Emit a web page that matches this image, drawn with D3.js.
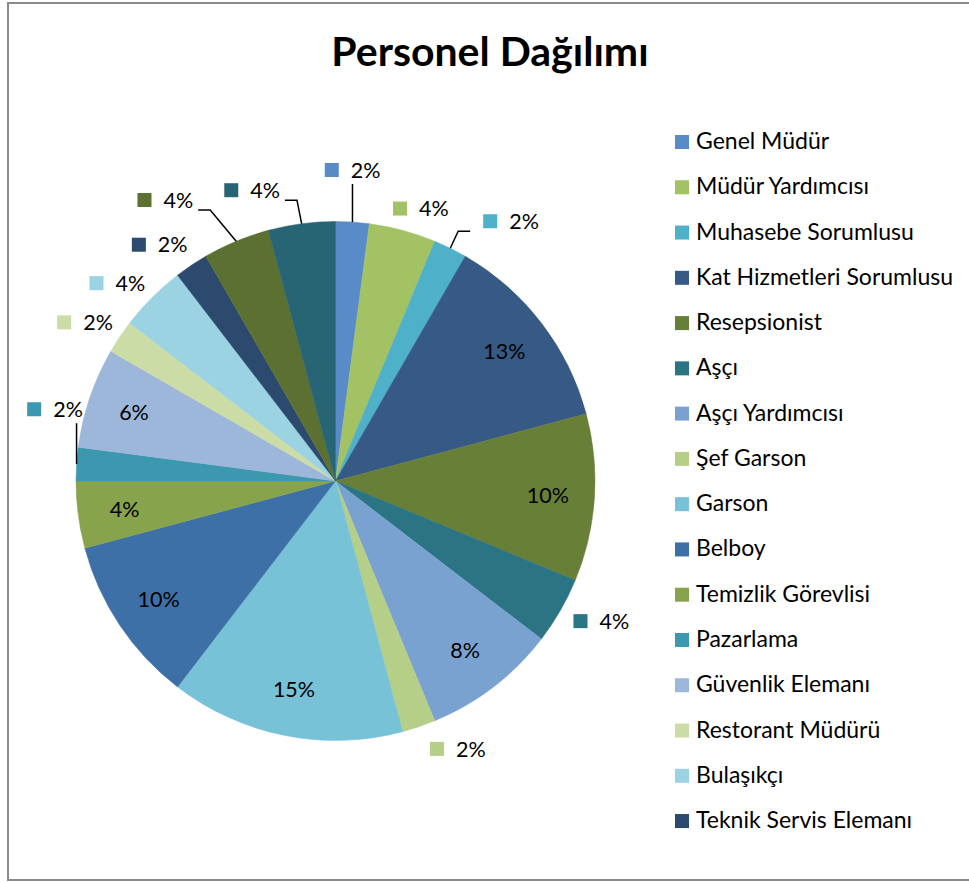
<!DOCTYPE html>
<html>
<head>
<meta charset="utf-8">
<title>Personel Dağılımı</title>
<script src="https://cdn.jsdelivr.net/npm/d3@7"></script>
<style>
  html, body { margin: 0; padding: 0; background: #fff; }
  svg { display: block; font-family: Lato, "Open Sans", sans-serif; }
</style>
</head>
<body>
<div class="chart"></div>
<script>
'use strict';

// Data
var TITLE = 'Personel Dağılımı';
var CATEGORIES = ['Genel Müdür', 'Müdür Yardımcısı', 'Muhasebe Sorumlusu', 'Kat Hizmetleri Sorumlusu',
  'Resepsionist', 'Aşçı', 'Aşçı Yardımcısı', 'Şef Garson', 'Garson', 'Belboy', 'Temizlik Görevlisi',
  'Pazarlama', 'Güvenlik Elemanı', 'Restorant Müdürü', 'Bulaşıkçı', 'Teknik Servis Elemanı',
  'Kategori 17', 'Kategori 18'];
var COUNTS = [1, 2, 1, 6, 5, 2, 4, 1, 7, 5, 2, 1, 3, 1, 2, 1, 2, 2];

// Colors
var COLORS = ['#588bc8', '#a3c264', '#4fb1c9', '#365a85', '#687f38', '#2a7484', '#7aa2d0', '#b5cf89',
  '#77c2d6', '#3e70a8', '#87a44c', '#3c98ae', '#9db7da', '#cbdca7', '#9bd3e2', '#2c4a6e', '#5c7131', '#286574'];

// Outside label nudges: [degrees, px] (label placement only)
var LABEL_NUDGE = [[-0.6, 16], [2.4, -10], [7.8, 18], null, null, [-2.2, 5], null, [-5.8, -1], null, null, null,
  [10.6, -6], null, [-1.4, 1], [-2.8, -1], [-2.9, -1], [-8.7, 33], [-8.5, 7]];

(function() {
  var w = 969;
  var h = 882;
  var cx = 335.5;
  var cy = 481;
  var radius = 259.5;
  var fs = 21.5;

  var data = CATEGORIES.map(function(c, i) {
    return {name: c, count: COUNTS[i], color: COLORS[i], nudge: LABEL_NUDGE[i]};
  });
  var total = d3.sum(COUNTS);
  var fmt = d3.format('.0%');

  var svg = d3.select('.chart')
    .append('svg')
    .attr('width', w)
    .attr('height', h);

  // Chart border
  svg.append('rect')
    .attr('x', 8)
    .attr('y', 3)
    .attr('width', w + 20)
    .attr('height', 877)
    .attr('fill', '#fff')
    .attr('stroke', '#8a8a8a')
    .attr('stroke-width', 2);

  // Title
  svg.append('text')
    .attr('x', 490)
    .attr('y', 66)
    .attr('text-anchor', 'middle')
    .attr('font-size', 41)
    .attr('font-weight', 'bold')
    .attr('fill', '#000')
    .text(TITLE);

  var pie = d3.pie().sort(null).value(function(d) { return d.count; });
  var arcs = pie(data);
  var arc = d3.arc().innerRadius(0).outerRadius(radius);

  var polar = function(a, rr) {
    return {x: cx + rr * Math.sin(a), y: cy - rr * Math.cos(a)};
  };

  // Slices
  svg.append('g')
    .attr('transform', 'translate(' + cx + ',' + cy + ')')
    .selectAll('path')
    .data(arcs)
    .enter()
    .append('path')
    .attr('d', arc)
    .attr('fill', function(d) { return d.data.color; })
    .attr('stroke', function(d) { return d.data.color; })
    .attr('stroke-width', 0.5);

  // Labels
  var labels = svg.append('g').attr('class', 'labels');
  var leaders = svg.append('g').attr('class', 'leaders');

  arcs.forEach(function(d) {
    var mid = (d.startAngle + d.endAngle) / 2;
    var g = labels.append('g');
    var t = g.append('text')
      .attr('font-size', fs)
      .attr('fill', '#000')
      .text(fmt(d.value / total));
    var tw = t.node().getComputedTextLength();
    var th = fs * 0.75;

    // Does the label fit inside the slice?
    var extent = tw * Math.abs(Math.cos(mid)) + th * Math.abs(Math.sin(mid));
    if (extent < 0.36 * radius * (d.endAngle - d.startAngle)) {
      var p = polar(mid, radius * 0.82);
      t.attr('x', p.x).attr('y', p.y + fs * 0.36).attr('text-anchor', 'middle');
      return;
    }

    // Outside label with legend key
    var nudge = d.data.nudge || [0, 0];
    var q = polar(mid + nudge[0] * Math.PI / 180, radius + 36 + nudge[1]);
    var gw = 26 + tw;
    var x0 = q.x - gw / 2;
    g.append('rect')
      .attr('x', x0)
      .attr('y', q.y - 7)
      .attr('width', 14)
      .attr('height', 14)
      .attr('fill', d.data.color);
    t.attr('x', x0 + 26).attr('y', q.y + fs * 0.36);

    var box = {x0: x0, x1: x0 + gw, y0: q.y - 8, y1: q.y + 8};

    // Distance from label box to the slice arc
    var gap = d3.min(d3.range(21), function(k) {
      var a = d.startAngle + (d.endAngle - d.startAngle) * k / 20;
      var s = polar(a, radius);
      var dx = Math.max(box.x0 - s.x, 0, s.x - box.x1);
      var dy = Math.max(box.y0 - s.y, 0, s.y - box.y1);
      return Math.sqrt(dx * dx + dy * dy);
    });
    if (gap < 28) return;

    var A = polar(mid, radius);
    var pts;
    if (A.x >= box.x0 && A.x <= box.x1) {
      pts = [[A.x, A.y], [A.x, A.y > box.y1 ? box.y1 + 6 : box.y0 - 6]];
    } else {
      var ey = A.y > box.y1 ? box.y1 + 2 : box.y0 - 2;
      var ex = box.x1 < A.x ? box.x1 + 5 : box.x0 - 13;
      var kx = box.x1 < A.x ? ex + 12 : ex - 12;
      pts = [[A.x, A.y], [kx, ey], [ex, ey]];
    }
    leaders.append('path')
      .attr('d', d3.line()(pts))
      .attr('fill', 'none')
      .attr('stroke', '#000')
      .attr('stroke-width', 1.5);
  });

  // Legend (only the rows that fit)
  var legendTop = 149;
  var pitch = 45.27;
  var maxRows = Math.floor((h - 40 - legendTop) / pitch) + 1;
  var shown = data.slice(0, maxRows);
  var yScale = d3.scalePoint()
    .domain(shown.map(function(d) { return d.name; }))
    .range([legendTop, legendTop + (shown.length - 1) * pitch]);

  var legend = svg.append('g')
    .attr('class', 'legend')
    .selectAll('g')
    .data(shown)
    .enter()
    .append('g');

  legend.append('rect')
    .attr('x', 675)
    .attr('y', function(d) { return yScale(d.name) - 14; })
    .attr('width', 14)
    .attr('height', 14)
    .attr('fill', function(d) { return d.color; });

  legend.append('text')
    .attr('x', 696)
    .attr('y', function(d) { return yScale(d.name); })
    .attr('font-size', 23)
    .attr('fill', '#000')
    .text(function(d) { return d.name; });
})();
</script>
</body>
</html>
